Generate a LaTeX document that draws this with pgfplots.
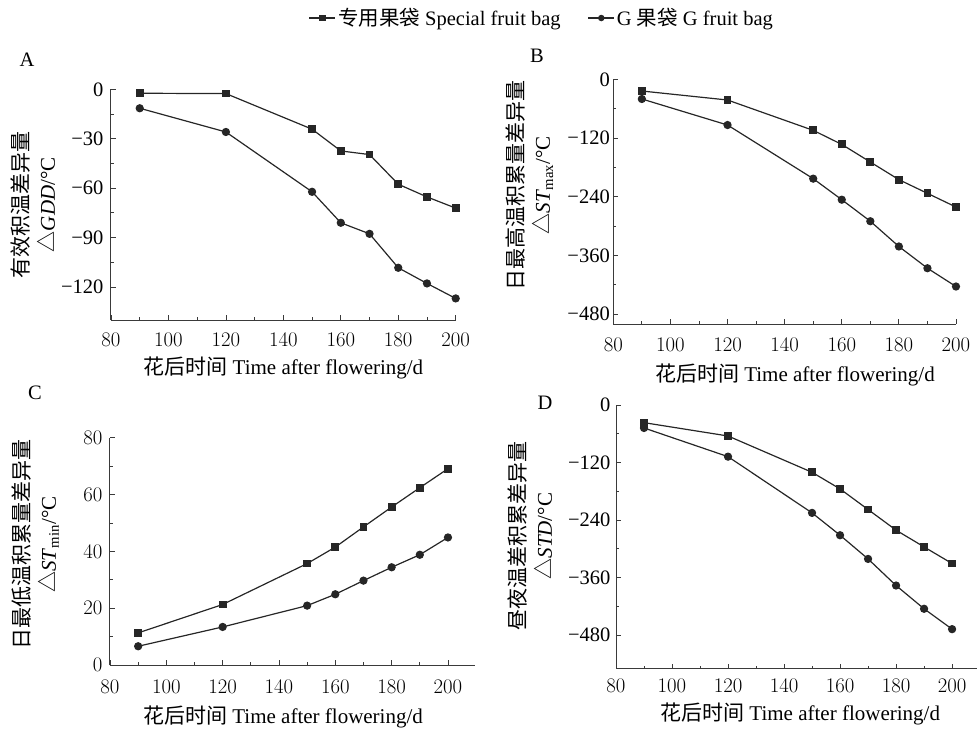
\documentclass[border=0pt]{standalone}
\usepackage{pgfplots}
\pgfplotsset{compat=1.18}
\usepackage{fontspec}
\setmainfont{Liberation Serif}
\newfontfamily\cjk{Noto Sans CJK SC}
\definecolor{ln}{HTML}{262626}
\definecolor{ax}{HTML}{3a3a3a}
\pgfplotsset{
 panel/.style={
  scale only axis,
  axis x line*=bottom, axis y line*=left,
  axis line style={ax, line width=1pt, -},
  every tick/.style={ax, line width=0.8pt},
  tick align=inside,
  major tick length=5pt, minor tick length=3pt,
  minor x tick num=1, minor y tick num=1,
  xtick={80,100,...,200},
  tick label style={font=\fontsize{20.5}{24}\selectfont},
  label style={font=\fontsize{21}{26}\selectfont, align=center},
  xlabel={{\cjk 花后时间} Time after flowering/d},
  clip=false,
  legend image code/.code={\draw[mark repeat=2,mark phase=2,#1, mark size=2.6pt] plot coordinates {(0pt,0pt)(13pt,0pt)(26pt,0pt)};},
 },
 sq/.style={ln, line width=1.2pt, mark=square*, mark size=3.3pt, mark options={solid, fill=ln}},
 ci/.style={ln, line width=1.2pt, mark=*, mark size=3.5pt, mark options={solid, fill=ln}},
}
\begin{document}
\begin{tikzpicture}
\path[use as bounding box] (0pt,0pt) rectangle (978pt,-732pt);
% Panel A
\begin{axis}[panel, at={(111pt,-320pt)}, anchor=south west,
 width=344.7pt, height=230.7pt, xmin=80, xmax=200, ymin=-140, ymax=0,
 ytick={-120,-90,-60,-30,0}, yticklabels={−120,−90,−60,−30,0},
 xticklabel style={yshift=-10pt}, yticklabel style={xshift=-4pt},
 ylabel={{\cjk 有效积温差异量}\\{\cjk △}\textit{GDD}/°C},
 ylabel style={at={(axis description cs:-0.226,0.5)}, anchor=center},
 xlabel style={at={(axis description cs:0.5,-0.208)}, anchor=center},
 legend style={at={(axis description cs:1.25,1.309)}, anchor=center, draw=none, fill=none,
  legend columns=2, font=\fontsize{20.5}{24}\selectfont,
  /tikz/every even column/.append style={column sep=25pt}},
]
\addplot[sq] coordinates {(90,-2.4)(120,-2.6)(150,-24.2)(160,-37.4)(170,-39.6)(180,-57.6)(190,-65.3)(200,-72.1)};
\addlegendentry{{\cjk 专用果袋} Special fruit bag}
\addplot[ci] coordinates {(90,-11.5)(120,-25.9)(150,-62.2)(160,-81)(170,-87.7)(180,-108.3)(190,-117.8)(200,-126.9)};
\addlegendentry{G {\cjk 果袋} G fruit bag}
\end{axis}
% Panel B
\begin{axis}[panel, at={(613.3pt,-324pt)}, anchor=south west,
 width=342.7pt, height=244.7pt, xmin=80, xmax=200, ymin=-500, ymax=0,
 ytick={-480,-360,-240,-120,0}, yticklabels={−480,−360,−240,−120,0},
 xticklabel style={yshift=-11pt}, yticklabel style={xshift=0pt},
 ylabel={{\cjk 日最高温积累量差异量}\\{\cjk △}\textit{ST}\textsubscript{max}/°C},
 ylabel style={at={(axis description cs:-0.244,0.567)}, anchor=center},
 xlabel style={at={(axis description cs:0.53,-0.208)}, anchor=center},
]
\addplot[sq] coordinates {(90,-23.9)(120,-42.3)(150,-104.3)(160,-133)(170,-169)(180,-205)(190,-233)(200,-261)};
\addplot[ci] coordinates {(90,-40.2)(120,-93.4)(150,-203)(160,-246)(170,-290)(180,-341.6)(190,-386)(200,-423.4)};
\end{axis}
% Panel C
\begin{axis}[panel, at={(110pt,-665pt)}, anchor=south west,
 width=365pt, height=227.3pt, xmin=80, xmax=209.6, ymin=0, ymax=80,
 ytick={0,20,40,60,80},
 xticklabel style={yshift=-12pt}, yticklabel style={xshift=-4pt},
 ylabel={{\cjk 日最低温积累量差异量}\\{\cjk △}\textit{ST}\textsubscript{min}/°C},
 ylabel style={at={(axis description cs:-0.204,0.53)}, anchor=center},
 xlabel style={at={(axis description cs:0.474,-0.227)}, anchor=center},
]
\addplot[sq] coordinates {(90,11.3)(120,21.3)(150,35.7)(160,41.5)(170,48.6)(180,55.6)(190,62.4)(200,69.1)};
\addplot[ci] coordinates {(90,6.6)(120,13.4)(150,20.9)(160,24.9)(170,29.7)(180,34.4)(190,38.8)(200,44.9)};
\end{axis}
% Panel D
\begin{axis}[panel, at={(616pt,-668.7pt)}, anchor=south west,
 width=361pt, height=263.7pt, xmin=80, xmax=208.9, ymin=-550, ymax=0,
 ytick={-480,-360,-240,-120,0}, yticklabels={−480,−360,−240,−120,0},
 xticklabel style={yshift=-7pt}, yticklabel style={xshift=-2pt},
 ylabel={{\cjk 昼夜温差积累差异量}\\{\cjk △}\textit{STD}/°C},
 ylabel style={at={(axis description cs:-0.238,0.503)}, anchor=center},
 xlabel style={at={(axis description cs:0.51,-0.170)}, anchor=center},
]
\addplot[sq] coordinates {(90,-36.8)(120,-64.6)(150,-140.3)(160,-175)(170,-218)(180,-261)(190,-296)(200,-330.6)};
\addplot[ci] coordinates {(90,-47.9)(120,-107.7)(150,-225)(160,-271.6)(170,-321)(180,-376.5)(190,-425)(200,-467.5)};
\end{axis}
\node[font=\fontsize{20.5}{24}\selectfont] at (27pt,-60pt) {A};
\node[font=\fontsize{20.5}{24}\selectfont] at (537pt,-56pt) {B};
\node[font=\fontsize{20.5}{24}\selectfont] at (35pt,-393pt) {C};
\node[font=\fontsize{20.5}{24}\selectfont] at (545pt,-403pt) {D};
\end{tikzpicture}
\end{document}
